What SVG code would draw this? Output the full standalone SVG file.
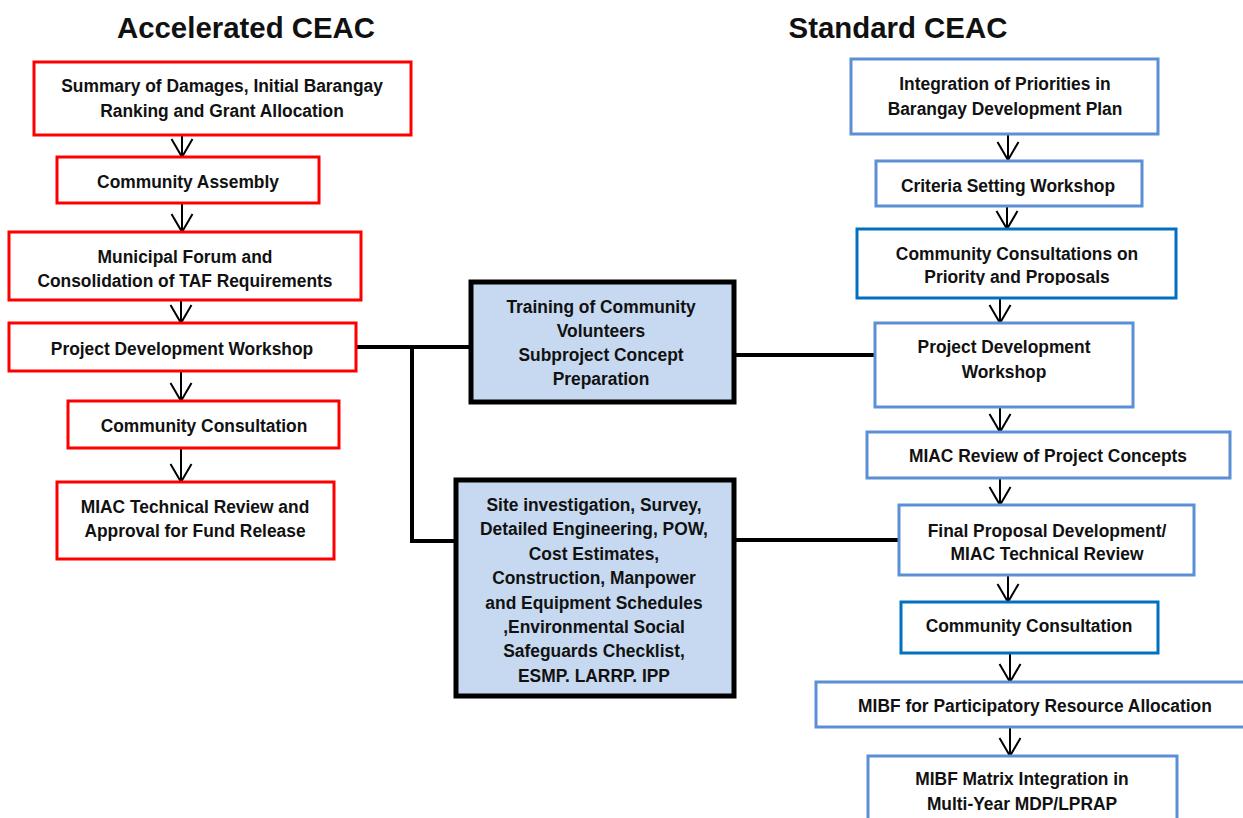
<svg xmlns="http://www.w3.org/2000/svg" width="1243" height="818" viewBox="0 0 1243 818">
  <defs>
    <style>
      text { font-family: "Liberation Sans", Arial, sans-serif; font-weight: bold; font-size: 19px; fill: #111; text-anchor: middle; }
      .box text { transform-box: fill-box; transform-origin: center; transform: scaleX(0.915); }
      .title { font-size: 29.4px; }
      .red { fill: #fff; stroke: #ff0000; stroke-width: 3; }
      .lblue { fill: #fff; stroke: #5b8fd6; stroke-width: 3; }
      .dblue { fill: #fff; stroke: #0070c0; stroke-width: 3; }
      .mid { fill: #c6d9f0; stroke: #000; stroke-width: 5; }
      .arrow { fill: none; stroke: #000; stroke-width: 2; marker-end: url(#vhead); }
      .link { fill: none; stroke: #000; stroke-width: 4; }
    </style>
    <marker id="vhead" markerUnits="userSpaceOnUse" viewBox="-20 -12 22 24" refX="0" refY="0" markerWidth="22" markerHeight="24" orient="auto">
      <path d="M-18,-10.5 L0,0 L-18,10.5" fill="none" stroke="#000" stroke-width="2"/>
    </marker>
    <clipPath id="clip-r3"><rect x="857" y="229" width="319" height="56"/></clipPath>
  </defs>

  <rect width="1243" height="818" fill="#fff"/>

  <!-- column headings -->
  <text class="title" x="246" y="38">Accelerated CEAC</text>
  <text class="title" x="898" y="38">Standard CEAC</text>

  <!-- connectors -->
  <g id="connectors">
    <line class="arrow" x1="182" y1="136" x2="182" y2="157"/>
    <line class="arrow" x1="182" y1="203" x2="182" y2="232"/>
    <line class="arrow" x1="181" y1="300" x2="181" y2="323"/>
    <line class="arrow" x1="181" y1="371" x2="181" y2="401"/>
    <line class="arrow" x1="181" y1="448" x2="181" y2="482"/>

    <line class="arrow" x1="1008" y1="134" x2="1008" y2="160"/>
    <line class="arrow" x1="1007" y1="206" x2="1007" y2="229"/>
    <line class="arrow" x1="1000" y1="298" x2="1000" y2="323"/>
    <line class="arrow" x1="1000" y1="407" x2="1000" y2="432"/>
    <line class="arrow" x1="1000" y1="478" x2="1000" y2="505"/>
    <line class="arrow" x1="1008" y1="575" x2="1008" y2="602"/>
    <line class="arrow" x1="1010" y1="653" x2="1010" y2="682"/>
    <line class="arrow" x1="1010" y1="727" x2="1010" y2="756"/>

    <path class="link" d="M356,347 H471 M412,347 V541 H456"/>
    <line class="link" x1="734" y1="355" x2="875" y2="355"/>
    <line class="link" x1="734" y1="540" x2="899" y2="540"/>
  </g>

  <!-- Accelerated CEAC steps -->
  <g id="a1" class="box">
    <rect class="red" x="34" y="62" width="377" height="73"/>
    <text x="222" y="92">Summary of Damages, Initial Barangay</text>
    <text x="222" y="117">Ranking and Grant Allocation</text>
  </g>
  <g id="a2" class="box">
    <rect class="red" x="57" y="157" width="262" height="46"/>
    <text x="188" y="188">Community Assembly</text>
  </g>
  <g id="a3" class="box">
    <rect class="red" x="9" y="232" width="352" height="68"/>
    <text x="185" y="263">Municipal Forum and</text>
    <text x="185" y="287">Consolidation of TAF Requirements</text>
  </g>
  <g id="a4" class="box">
    <rect class="red" x="9" y="323" width="347" height="48"/>
    <text x="182" y="355">Project Development Workshop</text>
  </g>
  <g id="a5" class="box">
    <rect class="red" x="68" y="401" width="271" height="47"/>
    <text x="204" y="432">Community Consultation</text>
  </g>
  <g id="a6" class="box">
    <rect class="red" x="57" y="482" width="277" height="77"/>
    <text x="195" y="513">MIAC Technical Review and</text>
    <text x="195" y="537">Approval for Fund Release</text>
  </g>

  <!-- shared activities -->
  <g id="m1" class="box">
    <rect class="mid" x="471" y="282" width="263" height="120"/>
    <text x="601" y="313">Training of Community</text>
    <text x="601" y="337">Volunteers</text>
    <text x="601" y="361">Subproject Concept</text>
    <text x="601" y="385">Preparation</text>
  </g>
  <g id="m2" class="box">
    <rect class="mid" x="456" y="480" width="278" height="216"/>
    <text x="594" y="511">Site investigation, Survey,</text>
    <text x="594" y="535">Detailed Engineering, POW,</text>
    <text x="594" y="560">Cost Estimates,</text>
    <text x="594" y="584">Construction, Manpower</text>
    <text x="594" y="609">and Equipment Schedules</text>
    <text x="594" y="633">,Environmental Social</text>
    <text x="594" y="657">Safeguards Checklist,</text>
    <text x="594" y="682">ESMP. LARRP. IPP</text>
  </g>

  <!-- Standard CEAC steps -->
  <g id="s1" class="box">
    <rect class="lblue" x="851" y="59" width="307" height="75"/>
    <text x="1005" y="90">Integration of Priorities in</text>
    <text x="1005" y="115">Barangay Development Plan</text>
  </g>
  <g id="s2" class="box">
    <rect class="lblue" x="876" y="161" width="266" height="45"/>
    <text x="1008" y="192">Criteria Setting Workshop</text>
  </g>
  <g id="s3" class="box">
    <rect class="dblue" x="857" y="229" width="319" height="69"/>
    <text x="1017" y="260">Community Consultations on</text>
    <g clip-path="url(#clip-r3)"><text x="1017" y="283">Priority and Proposals</text></g>
  </g>
  <g id="s4" class="box">
    <rect class="lblue" x="875" y="323" width="258" height="84"/>
    <text x="1004" y="353">Project Development</text>
    <text x="1004" y="378">Workshop</text>
  </g>
  <g id="s5" class="box">
    <rect class="lblue" x="867" y="432" width="363" height="46"/>
    <text x="1048" y="462">MIAC Review of Project Concepts</text>
  </g>
  <g id="s6" class="box">
    <rect class="lblue" x="899" y="505" width="295" height="70"/>
    <text x="1047" y="537">Final Proposal Development/</text>
    <text x="1047" y="560">MIAC Technical Review</text>
  </g>
  <g id="s7" class="box">
    <rect class="dblue" x="901" y="602" width="257" height="51"/>
    <text x="1029" y="632">Community Consultation</text>
  </g>
  <g id="s8" class="box">
    <rect class="lblue" x="816" y="682" width="440" height="45"/>
    <text x="1035" y="712">MIBF for Participatory Resource Allocation</text>
  </g>
  <g id="s9" class="box">
    <rect class="lblue" x="868" y="756" width="309" height="80"/>
    <text x="1022" y="785">MIBF Matrix Integration in</text>
    <text x="1022" y="810">Multi-Year MDP/LPRAP</text>
  </g>
</svg>
